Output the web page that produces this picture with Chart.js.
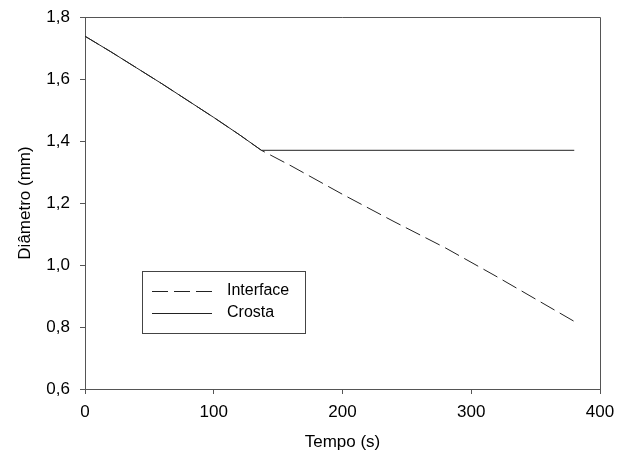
<!DOCTYPE html>
<html lang="pt">
<head>
  <meta charset="UTF-8" />
  <title>Diâmetro x Tempo</title>
  <script src="https://cdn.jsdelivr.net/npm/chart.js"></script>
  <style>
    html, body { margin: 0; padding: 0; background: #fff; }
    #wrap { width: 627px; height: 454px; }
  </style>
</head>
<body>
  <div id="wrap"><canvas id="chart" width="627" height="454"></canvas></div>

  <script>
    // values (tempo in s, diâmetro in mm)
    const interfaceT = [0, 20, 40, 60, 80, 100, 120, 137, 160, 200, 240, 280, 320, 350, 380];
    const interfaceD = [1.738, 1.688, 1.636, 1.584, 1.530, 1.476, 1.420, 1.370, 1.320, 1.228, 1.140, 1.055, 0.962, 0.890, 0.818];
    const crostaT = [0, 20, 40, 60, 80, 100, 120, 137, 380];
    const crostaD = [1.738, 1.688, 1.636, 1.584, 1.530, 1.476, 1.420, 1.370, 1.370];

    const xTicks = [0, 100, 200, 300, 400];
    const yTicks = [0.6, 0.8, 1.0, 1.2, 1.4, 1.6, 1.8];

    const axisColor = "#555";
    const font = "Arial, 'Liberation Sans', sans-serif";

    const toXY = (t, d) => t.map((v, i) => ({ x: v, y: d[i] }));

    // frame on top/right + the boxed legend
    const framePlugin = {
      id: "frame",
      afterDraw(chart) {
        const { ctx, chartArea: a } = chart;
        ctx.save();
        ctx.strokeStyle = axisColor;
        ctx.lineWidth = 1;
        ctx.beginPath();
        ctx.moveTo(a.left, a.top + 0.5);
        ctx.lineTo(a.right + 0.5, a.top + 0.5);
        ctx.lineTo(a.right + 0.5, a.bottom);
        ctx.stroke();

        // legend
        const bx = a.left + 57, by = a.top + 254, bw = 163, bh = 62;
        ctx.strokeStyle = "#444";
        ctx.strokeRect(bx + 0.5, by + 0.5, bw, bh);
        ctx.font = "16px " + font;
        ctx.fillStyle = "#000";
        ctx.textBaseline = "middle";
        chart.data.datasets.forEach((ds, i) => {
          const ly = by + 20 + i * 22;
          ctx.strokeStyle = ds.borderColor;
          ctx.setLineDash(ds.borderDash || []);
          ctx.beginPath();
          ctx.moveTo(bx + 10, ly + 0.5);
          ctx.lineTo(bx + 70, ly + 0.5);
          ctx.stroke();
          ctx.setLineDash([]);
          ctx.fillText(ds.label, bx + 85, ly);
        });
        ctx.restore();
      }
    };

    new Chart(document.getElementById("chart"), {
      type: "line",
      data: {
        datasets: [
          {
            label: "Interface",
            data: toXY(interfaceT, interfaceD),
            borderColor: "#222",
            borderWidth: 1,
            borderDash: [16, 6],
            pointRadius: 0,
            tension: 0,
            fill: false
          },
          {
            label: "Crosta",
            data: toXY(crostaT, crostaD),
            borderColor: "#222",
            borderWidth: 1,
            pointRadius: 0,
            tension: 0,
            fill: false
          }
        ]
      },
      options: {
        responsive: false,
        animation: false,
        layout: { padding: { top: 17, right: 27, left: 0, bottom: 0 } },
        plugins: {
          legend: { display: false },
          tooltip: { enabled: false }
        },
        scales: {
          x: {
            type: "linear",
            min: 0,
            max: 400,
            afterFit: s => { s.height = 65; s.paddingLeft = 0; s.paddingRight = 0; },
            afterBuildTicks: s => { s.ticks = xTicks.map(v => ({ value: v })); },
            grid: { drawOnChartArea: false, tickLength: 5, color: axisColor },
            border: { color: axisColor },
            ticks: { color: "#000", padding: 8, font: { family: font, size: 17 }, maxRotation: 0 },
            title: { display: true, text: "Tempo (s)", color: "#000", padding: { bottom: 1, top: 0 }, font: { family: font, size: 17 } }
          },
          y: {
            type: "linear",
            min: 0.6,
            max: 1.8,
            afterFit: s => { s.width = 85; s.paddingTop = 0; s.paddingBottom = 0; },
            afterBuildTicks: s => { s.ticks = yTicks.map(v => ({ value: v })); },
            grid: { drawOnChartArea: false, tickLength: 5, color: axisColor },
            border: { color: axisColor },
            ticks: {
              color: "#000",
              padding: 10,
              font: { family: font, size: 17 },
              callback: v => v.toFixed(1).replace(".", ",")
            },
            title: { display: true, text: "Diâmetro (mm)", color: "#000", padding: { top: 15, bottom: 0 }, font: { family: font, size: 17 } }
          }
        }
      },
      plugins: [framePlugin]
    });
  </script>
</body>
</html>
